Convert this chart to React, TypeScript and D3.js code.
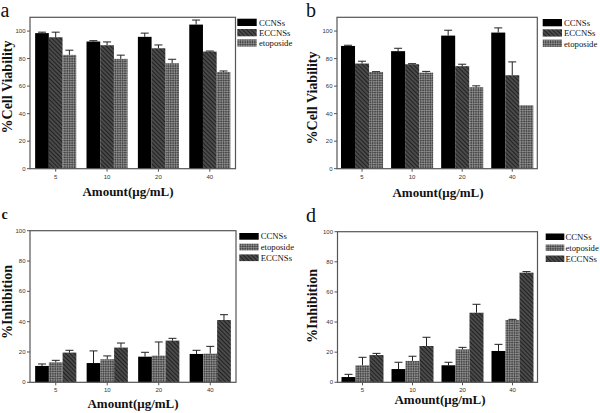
import React from "react";
import * as d3 from "d3";

const doses = ["5", "10", "20", "40"];

// Panel a (%Cell Viability)
const aSeries = ["CCNSs", "ECCNSs", "etoposide"];
const aCCNSs = [98.5, 92.4, 95.8, 104.7];
const aCCNSsErr = [0.7, 0.6, 2.7, 3.3];
const aECCNSs = [95.5, 89.7, 87.5, 85.1];
const aECCNSsErr = [3.7, 2.4, 2.4, 0.4];
const aEtoposide = [82.7, 79.8, 76.6, 70.3];
const aEtoposideErr = [3.4, 2.7, 2.9, 0.7];

// Panel b (%Cell Viability)
const bSeries = ["CCNSs", "ECCNSs", "etoposide"];
const bCCNSs = [89.2, 85.4, 96.7, 98.9];
const bCCNSsErr = [0.5, 2.1, 3.9, 3.4];
const bECCNSs = [76.4, 75.9, 74.5, 67.9];
const bECCNSsErr = [1.7, 0.4, 1.4, 9.7];
const bEtoposide = [70.3, 69.8, 59.2, 46.1];
const bEtoposideErr = [0.2, 0.9, 1.0, 0];

// Panel c (%Inhibition)
const cSeries = ["CCNSs", "etoposide", "ECCNSs"];
const cCCNSs = [10.8, 12.7, 16.9, 18.7];
const cCCNSsErr = [1.3, 8.0, 2.9, 2.4];
const cEtoposide = [13.2, 15.2, 17.6, 18.9];
const cEtoposideErr = [1.3, 2.2, 9.0, 4.8];
const cECCNSs = [19.6, 22.9, 27.5, 41.1];
const cECCNSsErr = [1.5, 3.0, 1.5, 3.5];

// Panel d (%Inhibition)
const dSeries = ["CCNSs", "etoposide", "ECCNSs"];
const dCCNSs = [3.5, 8.8, 11.3, 20.8];
const dCCNSsErr = [1.8, 4.5, 2.0, 4.4];
const dEtoposide = [11.3, 14.2, 21.9, 41.4];
const dEtoposideErr = [5.3, 3.1, 1.3, 0.4];
const dECCNSs = [18.1, 24.1, 46.2, 72.8];
const dECCNSsErr = [1.1, 5.8, 5.6, 0.7];

const yTicks = [0, 20, 40, 60, 80, 100];

const fills: Record<string, string> = {
  CCNSs: "#000000",
  ECCNSs: "url(#hatch)",
  etoposide: "url(#checker)",
};

const SERIF = "'Liberation Serif', 'Times New Roman', Tinos, serif";
const SANS = "'Liberation Sans', Arial, sans-serif";

type PanelProps = {
  letter: string;
  letterBold?: boolean;
  letterSize: number;
  letterX: number;
  letterY: number;
  left: number;
  right: number;
  top: number;
  bottom: number;
  yMax: number;
  pad: number;
  series: string[];
  values: number[][];
  errors: number[][];
  yLabel: string;
  yLabelX: number;
  yLabelY: number;
  xLabelX: number;
  xLabelY: number;
  legendX: number;
  legendY: number;
  legendStep: number;
  legendH: number;
  legendW: number;
  legendGap: number;
};

function Panel(p: PanelProps) {
  const x = d3
    .scaleBand<string>()
    .domain(doses)
    .range([p.left, p.right])
    .paddingInner(p.pad)
    .paddingOuter(p.pad / 2);
  const xs = d3.scaleBand<string>().domain(p.series).range([0, x.bandwidth()]);
  const y = d3.scaleLinear().domain([0, p.yMax]).range([p.bottom, p.top]);
  const cap = 4;
  return (
    <g>
      <text
        x={p.letterX}
        y={p.letterY}
        fontFamily={SERIF}
        fontSize={p.letterSize}
        fontWeight={p.letterBold ? "bold" : "normal"}
        fill="#111"
      >
        {p.letter}
      </text>
      {p.series.map((s, si) =>
        doses.map((d, di) => {
          const v = p.values[si][di];
          const e = p.errors[si][di];
          const bx = (x(d) as number) + (xs(s) as number);
          const bw = xs.bandwidth();
          const cx = bx + bw / 2;
          return (
            <g key={s + d}>
              <rect
                x={bx}
                y={y(v)}
                width={bw}
                height={y(0) - y(v)}
                fill={fills[s]}
              />
              {e > 0 && (
                <g stroke="#222" strokeWidth={1}>
                  <line x1={cx} x2={cx} y1={y(v)} y2={y(v + e)} />
                  <line x1={cx - cap} x2={cx + cap} y1={y(v + e)} y2={y(v + e)} />
                </g>
              )}
            </g>
          );
        })
      )}
      <rect
        x={p.left}
        y={p.top}
        width={p.right - p.left}
        height={p.bottom - p.top}
        fill="none"
        stroke="#555"
        strokeWidth={1.2}
      />
      {yTicks.map((t) => (
        <g key={t}>
          <line x1={p.left - 3} x2={p.left} y1={y(t)} y2={y(t)} stroke="#555" strokeWidth={1} />
          <text
            x={p.left - 4.5}
            y={y(t) + 2}
            textAnchor="end"
            fontFamily={SANS}
            fontSize={6}
            fill="#333"
          >
            {t}
          </text>
        </g>
      ))}
      {doses.map((d) => {
        const cx = (x(d) as number) + x.bandwidth() / 2;
        return (
          <g key={d}>
            <line x1={cx} x2={cx} y1={p.bottom} y2={p.bottom + 3} stroke="#555" strokeWidth={1} />
            <text
              x={cx}
              y={p.bottom + 10}
              textAnchor="middle"
              fontFamily={SANS}
              fontSize={6}
              fill="#333"
            >
              {d}
            </text>
          </g>
        );
      })}
      <text
        x={p.xLabelX}
        y={p.xLabelY}
        textAnchor="middle"
        fontFamily={SERIF}
        fontWeight="bold"
        fontSize={13}
        fill="#111"
      >
        Amount(μg/mL)
      </text>
      <text
        transform={`translate(${p.yLabelX},${p.yLabelY}) rotate(-90)`}
        textAnchor="middle"
        fontFamily={SERIF}
        fontWeight="bold"
        fontSize={14}
        fill="#111"
      >
        {p.yLabel}
      </text>
      {p.series.map((s, i) => (
        <g key={s}>
          <rect
            x={p.legendX}
            y={p.legendY + i * p.legendStep}
            width={p.legendW}
            height={p.legendH}
            fill={fills[s]}
          />
          <text
            x={p.legendX + p.legendW + p.legendGap}
            y={p.legendY + i * p.legendStep + p.legendH - 0.3}
            fontFamily={SERIF}
            fontSize={8.7}
            fill="#111"
          >
            {s}
          </text>
        </g>
      ))}
    </g>
  );
}

export default function App() {
  return (
    <svg
      width={600}
      height={413}
      style={{ position: "absolute", left: 0, top: 0, background: "#fff" }}
    >
      <defs>
        <pattern
          id="hatch"
          width={3}
          height={3}
          patternUnits="userSpaceOnUse"
          patternTransform="rotate(-45)"
        >
          <rect width={3} height={3} fill="#4a4a4a" />
          <line x1={0.5} y1={0} x2={0.5} y2={3} stroke="#222" strokeWidth={1} />
        </pattern>
        <pattern
          id="checker"
          width={3.4}
          height={3.4}
          patternUnits="userSpaceOnUse"
          patternTransform="rotate(45)"
        >
          <rect width={3.4} height={3.4} fill="#8c8c8c" />
          <rect width={1.7} height={1.7} fill="#4a4a4a" />
          <rect x={1.7} y={1.7} width={1.7} height={1.7} fill="#4a4a4a" />
        </pattern>
      </defs>
      <Panel
        letter="a"
        letterSize={20}
        letterX={0.5}
        letterY={17}
        left={30}
        right={235.5}
        top={17.3}
        bottom={168.7}
        yMax={110}
        pad={0.2}
        series={aSeries}
        values={[aCCNSs, aECCNSs, aEtoposide]}
        errors={[aCCNSsErr, aECCNSsErr, aEtoposideErr]}
        yLabel="%Cell Viability"
        yLabelX={11.5}
        yLabelY={87}
        xLabelX={128}
        xLabelY={196}
        legendX={237.3}
        legendY={18.7}
        legendStep={10.3}
        legendH={7.3}
        legendW={19.4}
        legendGap={2.3}
      />
      <Panel
        letter="b"
        letterSize={20}
        letterX={306}
        letterY={16.5}
        left={337}
        right={537.3}
        top={17.3}
        bottom={168.7}
        yMax={110}
        pad={0.16}
        series={bSeries}
        values={[bCCNSs, bECCNSs, bEtoposide]}
        errors={[bCCNSsErr, bECCNSsErr, bEtoposideErr]}
        yLabel="%Cell Viability"
        yLabelX={317}
        yLabelY={98}
        xLabelX={438}
        xLabelY={197}
        legendX={542.7}
        legendY={19}
        legendStep={10.3}
        legendH={7.3}
        legendW={19.3}
        legendGap={2}
      />
      <Panel
        letter="c"
        letterBold
        letterSize={14}
        letterX={1.5}
        letterY={219}
        left={30}
        right={236}
        top={230.7}
        bottom={382.3}
        yMax={100}
        pad={0.2}
        series={cSeries}
        values={[cCCNSs, cEtoposide, cECCNSs]}
        errors={[cCCNSsErr, cEtoposideErr, cECCNSsErr]}
        yLabel="%Inhibition"
        yLabelX={12}
        yLabelY={302}
        xLabelX={133}
        xLabelY={408}
        legendX={239.3}
        legendY={233}
        legendStep={10.7}
        legendH={6.7}
        legendW={19.4}
        legendGap={2}
      />
      <Panel
        letter="d"
        letterSize={20}
        letterX={306}
        letterY={222}
        left={337.5}
        right={537.5}
        top={231.7}
        bottom={382.3}
        yMax={100}
        pad={0.16}
        series={dSeries}
        values={[dCCNSs, dEtoposide, dECCNSs]}
        errors={[dCCNSsErr, dEtoposideErr, dECCNSsErr]}
        yLabel="%Inhibition"
        yLabelX={317}
        yLabelY={306}
        xLabelX={440}
        xLabelY={404}
        legendX={545.7}
        legendY={233.5}
        legendStep={11}
        legendH={6.5}
        legendW={18.6}
        legendGap={1.2}
      />
    </svg>
  );
}
